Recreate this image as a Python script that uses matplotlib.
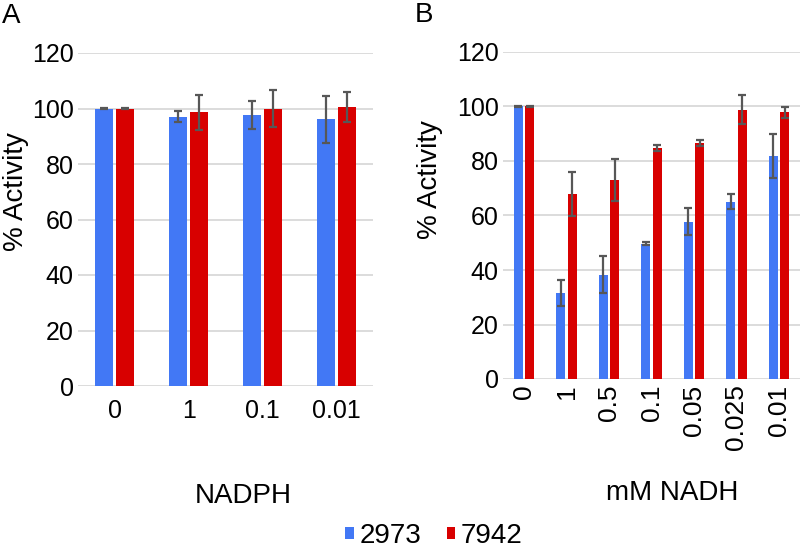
import matplotlib
matplotlib.use('Agg')
import matplotlib.pyplot as plt
import numpy as np

plt.rcParams['font.family'] = ['Liberation Sans', 'DejaVu Sans']

# panel A: NADPH
nadph_labels = ['0', '1', '0.1', '0.01']
nadph_2973 = [100, 97, 97.6, 96.1]
nadph_2973_err = [0.2, 2.0, 5.1, 8.5]
nadph_7942 = [100, 98.6, 100, 100.6]
nadph_7942_err = [0.2, 6.2, 6.8, 5.4]

# panel B: mM NADH
nadh_labels = ['0', '1', '0.5', '0.1', '0.05', '0.025', '0.01']
nadh_2973 = [100, 31.5, 38.2, 49.7, 57.7, 65.1, 81.9]
nadh_2973_err = [0.2, 4.8, 6.8, 0.5, 5.0, 2.8, 8.1]
nadh_7942 = [100, 67.8, 73.1, 84.7, 86.5, 98.8, 97.9]
nadh_7942_err = [0.2, 8.0, 7.6, 1.0, 1.1, 5.3, 2.0]

blue = '#4278F5'
red = '#D80000'
err_color = '#575757'
grid_color = '#d9d9d9'


def panel(ax, labels, v1, e1, v2, e2, width, offset, xrot, xsize, xpad):
    x = np.arange(len(labels))
    b1 = ax.bar(x - offset, v1, width, color=blue, linewidth=0, zorder=2)
    b2 = ax.bar(x + offset, v2, width, color=red, linewidth=0, zorder=2)
    ax.errorbar(x - offset, v1, yerr=e1, fmt='none', ecolor=err_color,
                elinewidth=1.6, capsize=2.8, capthick=1.6, zorder=3)
    ax.errorbar(x + offset, v2, yerr=e2, fmt='none', ecolor=err_color,
                elinewidth=1.6, capsize=2.8, capthick=1.6, zorder=3)
    ax.set_xlim(-0.5, len(labels) - 0.5)
    ax.set_ylim(0, 120)
    ax.set_yticks(range(0, 121, 20))
    ax.set_xticks(x)
    ax.set_xticklabels(labels, rotation=xrot, fontsize=xsize)
    ax.tick_params(axis='x', length=0, pad=xpad)
    ax.tick_params(axis='y', length=0, pad=3, labelsize=18)
    ax.xaxis.grid(False)
    ax.yaxis.grid(True, color=grid_color, linewidth=1.3, zorder=0)
    ax.set_axisbelow(True)
    for s in ax.spines.values():
        s.set_visible(False)
    return b1, b2


fig = plt.figure(figsize=(8, 5.5), dpi=100)

ax1 = fig.add_axes([78/800, 1 - 386/550, 295/800, 333/550])
b1, b2 = panel(ax1, nadph_labels, nadph_2973, nadph_2973_err,
               nadph_7942, nadph_7942_err, 0.245, 0.142, 0, 18, 9)

ax2 = fig.add_axes([503/800, 1 - 379/550, 297/800, 327/550])
panel(ax2, nadh_labels, nadh_2973, nadh_2973_err,
      nadh_7942, nadh_7942_err, 0.21, 0.135, 90, 19, 4)

# panel letters and axis titles
fig.text(2/800, 1 - 16/550, 'A', fontsize=20, ha='left', va='center')
fig.text(415/800, 1 - 15/550, 'B', fontsize=20, ha='left', va='center')
fig.text(16/800, 1 - 192/550, '% Activity', fontsize=20, rotation=90,
         ha='center', va='center')
fig.text(430/800, 1 - 180/550, '% Activity', fontsize=20, rotation=90,
         ha='center', va='center')
fig.text(243/800, 1 - 496/550, 'NADPH', fontsize=20, ha='center', va='center')
fig.text(672/800, 1 - 493/550, 'mM NADH', fontsize=20, ha='center', va='center')

fig.legend([b1, b2], ['2973', '7942'], loc='center',
           bbox_to_anchor=(434/800, 1 - 536/550), ncol=2, frameon=False,
           fontsize=20, handlelength=0.32, handleheight=0.32,
           handletextpad=0.2, columnspacing=0.9, borderpad=0)

fig.savefig('out.png', dpi=100)
